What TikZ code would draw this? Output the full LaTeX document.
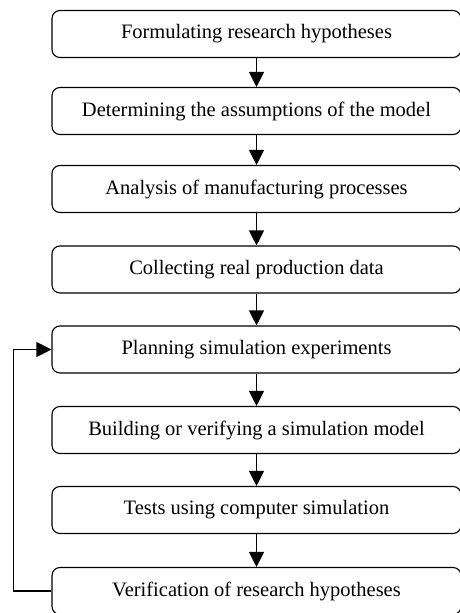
\documentclass[tikz,border=0pt]{standalone}
\usepackage{fontspec}
\setmainfont{Liberation Serif}
\usetikzlibrary{arrows.meta}
\begin{document}
\begin{tikzpicture}[x=1pt,y=-1pt,
  box/.style={draw, line width=1.1pt, rounded corners=8pt, minimum width=409pt, minimum height=47pt, font=\fontsize{20.5}{24}\selectfont, inner sep=0pt},
  arr/.style={line width=1.1pt, -{Triangle[length=15pt,width=15pt]}}]
\useasboundingbox (0,0) rectangle (459,613);
\node[box] (b1) at (256.5,34) {Formulating research hypotheses};
\node[box] (b2) at (256.5,111) {Determining the assumptions of the model};
\node[box] (b3) at (256.5,189) {Analysis of manufacturing processes};
\node[box] (b4) at (256.5,269.5) {Collecting real production data};
\node[box] (b5) at (256.5,349.5) {Planning simulation experiments};
\node[box] (b6) at (256.5,430) {Building or verifying a simulation model};
\node[box] (b7) at (256.5,510) {Tests using computer simulation};
\node[box] (b8) at (256.5,591) {Verification of research hypotheses};
\draw[arr] (b1) -- (b2);
\draw[arr] (b2) -- (b3);
\draw[arr] (b3) -- (b4);
\draw[arr] (b4) -- (b5);
\draw[arr] (b5) -- (b6);
\draw[arr] (b6) -- (b7);
\draw[arr] (b7) -- (b8);
\draw[arr] (b8.west) -- ++(-38,0) |- (b5.west);
\end{tikzpicture}
\end{document}
